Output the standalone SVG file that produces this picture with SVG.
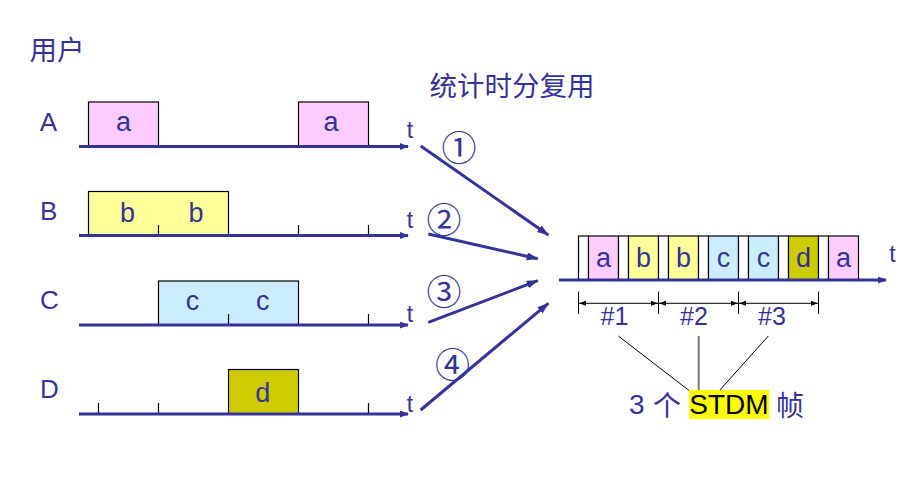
<svg xmlns="http://www.w3.org/2000/svg" width="924" height="483" viewBox="0 0 924 483">
<defs>
<style>
.lbl{font-family:"Liberation Sans",Arial,sans-serif;fill:#333399}
.cjk{font-family:"Noto Sans CJK SC",sans-serif;fill:#333399}
.box{stroke:#000;stroke-width:1.2}
.pink{fill:#FFCCFF}
.yel{fill:#FFFF99}
.blu{fill:#CCECFF}
.olv{fill:#CCCC00}
.wht{fill:#FFFFFF}
.axis{stroke:#333399;stroke-width:3;fill:none}
.tick{stroke:#000;stroke-width:1.2}
.mux{stroke:#333399;stroke-width:3;fill:none}
.thin{stroke:#000;stroke-width:1}
.num{font-family:"Noto Sans CJK SC",sans-serif;fill:#333399;font-size:35px}
</style>
<marker id="ax" markerUnits="userSpaceOnUse" markerWidth="10" markerHeight="8" refX="8" refY="3.5" orient="auto">
<path d="M0,0 L9,3.5 L0,7 z" fill="#333399"/>
</marker>
<marker id="mx" markerUnits="userSpaceOnUse" markerWidth="14" markerHeight="10" refX="11" refY="4" orient="auto">
<path d="M0,0 L12,4 L0,8 z" fill="#333399"/>
</marker>
<marker id="bk" markerUnits="userSpaceOnUse" markerWidth="8" markerHeight="6" refX="7" refY="2.5" orient="auto-start-reverse">
<path d="M0,0 L7,2.5 L0,5 z" fill="#000"/>
</marker>
</defs>
<rect width="924" height="483" fill="#fff"/>

<text class="cjk" x="29.5" y="59.5" font-size="27.5">用户</text>
<text class="cjk" x="429.5" y="96" font-size="27.5">统计时分复用</text>

<g id="userA">
<rect class="box pink" x="88.5" y="102" width="70" height="44.5"/>
<rect class="box pink" x="298.5" y="102" width="70" height="44.5"/>
<line class="axis" x1="79" y1="146.5" x2="408" y2="146.5" marker-end="url(#ax)"/>
<text class="lbl" x="48.5" y="131" font-size="26" text-anchor="middle">A</text>
<text class="lbl" x="123.5" y="130.5" font-size="27" text-anchor="middle">a</text>
<text class="lbl" x="331" y="130.5" font-size="27" text-anchor="middle">a</text>
<text class="lbl" x="410" y="138" font-size="23" text-anchor="middle">t</text>
</g>

<g id="userB">
<rect class="box yel" x="88.5" y="191.5" width="140" height="44"/>
<line class="tick" x1="158.5" y1="225" x2="158.5" y2="235.5"/>
<line class="tick" x1="298.5" y1="225" x2="298.5" y2="235.5"/>
<line class="tick" x1="368.5" y1="225" x2="368.5" y2="235.5"/>
<line class="axis" x1="79" y1="235.5" x2="408" y2="235.5" marker-end="url(#ax)"/>
<text class="lbl" x="48.7" y="219.5" font-size="26" text-anchor="middle">B</text>
<text class="lbl" x="127.5" y="222" font-size="27" text-anchor="middle">b</text>
<text class="lbl" x="196" y="222" font-size="27" text-anchor="middle">b</text>
<text class="lbl" x="410" y="228" font-size="23" text-anchor="middle">t</text>
</g>

<g id="userC">
<rect class="box blu" x="158.5" y="281" width="140" height="44"/>
<line class="tick" x1="228.5" y1="314" x2="228.5" y2="325"/>
<line class="tick" x1="368.5" y1="314" x2="368.5" y2="325"/>
<line class="axis" x1="79" y1="325" x2="408" y2="325" marker-end="url(#ax)"/>
<text class="lbl" x="49.5" y="309" font-size="26" text-anchor="middle">C</text>
<text class="lbl" x="192.5" y="310" font-size="27" text-anchor="middle">c</text>
<text class="lbl" x="262.7" y="310" font-size="27" text-anchor="middle">c</text>
<text class="lbl" x="410" y="321.5" font-size="23" text-anchor="middle">t</text>
</g>

<g id="userD">
<rect class="box olv" x="228.5" y="369.5" width="70" height="44.5"/>
<line class="tick" x1="98.5" y1="403" x2="98.5" y2="414"/>
<line class="tick" x1="158.5" y1="403" x2="158.5" y2="414"/>
<line class="tick" x1="368.5" y1="403" x2="368.5" y2="414"/>
<line class="axis" x1="79" y1="414" x2="408" y2="414" marker-end="url(#ax)"/>
<text class="lbl" x="49.5" y="397.5" font-size="26" text-anchor="middle">D</text>
<text class="lbl" x="262.7" y="401.5" font-size="27" text-anchor="middle">d</text>
<text class="lbl" x="410" y="411.5" font-size="23" text-anchor="middle">t</text>
</g>

<g id="connectors">
<line class="mux" x1="420.7" y1="146" x2="548.3" y2="235" marker-end="url(#mx)"/>
<line class="mux" x1="428.3" y1="234" x2="537.7" y2="258.7" marker-end="url(#mx)"/>
<line class="mux" x1="428.3" y1="322.3" x2="537.7" y2="280.7" marker-end="url(#mx)"/>
<line class="mux" x1="420.7" y1="410" x2="548.3" y2="303.3" marker-end="url(#mx)"/>
<text class="num" x="459" y="145" text-anchor="middle" dominant-baseline="central">①</text>
<text class="num" x="444" y="217.5" text-anchor="middle" dominant-baseline="central">②</text>
<text class="num" x="444" y="289" text-anchor="middle" dominant-baseline="central">③</text>
<text class="num" x="452.5" y="362.5" text-anchor="middle" dominant-baseline="central">④</text>
</g>

<g id="stdm">
<rect class="box wht" x="578.5" y="236" width="10" height="44"/>
<rect class="box pink" x="588.5" y="236" width="30" height="44"/>
<rect class="box wht" x="618.5" y="236" width="10" height="44"/>
<rect class="box yel" x="628.5" y="236" width="30" height="44"/>
<rect class="box wht" x="658.5" y="236" width="10" height="44"/>
<rect class="box yel" x="668.5" y="236" width="30" height="44"/>
<rect class="box wht" x="698.5" y="236" width="10" height="44"/>
<rect class="box blu" x="708.5" y="236" width="30" height="44"/>
<rect class="box wht" x="738.5" y="236" width="10" height="44"/>
<rect class="box blu" x="748.5" y="236" width="30" height="44"/>
<rect class="box wht" x="778.5" y="236" width="10" height="44"/>
<rect class="box olv" x="788.5" y="236" width="30" height="44"/>
<rect class="box wht" x="818.5" y="236" width="10" height="44"/>
<rect class="box pink" x="828.5" y="236" width="30" height="44"/>
<line class="axis" x1="559" y1="280" x2="886" y2="280" marker-end="url(#ax)"/>
<text class="lbl" x="603.5" y="266.5" font-size="27" text-anchor="middle">a</text>
<text class="lbl" x="643.5" y="266.5" font-size="27" text-anchor="middle">b</text>
<text class="lbl" x="683.5" y="266.5" font-size="27" text-anchor="middle">b</text>
<text class="lbl" x="723.5" y="266.5" font-size="27" text-anchor="middle">c</text>
<text class="lbl" x="763.5" y="266.5" font-size="27" text-anchor="middle">c</text>
<text class="lbl" x="803.5" y="266.5" font-size="27" text-anchor="middle">d</text>
<text class="lbl" x="843.5" y="266.5" font-size="27" text-anchor="middle">a</text>
<text class="lbl" x="892.5" y="261.5" font-size="23" text-anchor="middle">t</text>
</g>

<g id="frames">
<line class="thin" x1="578.5" y1="291.5" x2="578.5" y2="314"/>
<line class="thin" x1="658.5" y1="291.5" x2="658.5" y2="314"/>
<line class="thin" x1="738.5" y1="291.5" x2="738.5" y2="314"/>
<line class="thin" x1="818.5" y1="291.5" x2="818.5" y2="314"/>
<line class="thin" x1="579" y1="303.3" x2="658" y2="303.3" marker-start="url(#bk)" marker-end="url(#bk)"/>
<line class="thin" x1="659" y1="303.3" x2="738" y2="303.3" marker-start="url(#bk)" marker-end="url(#bk)"/>
<line class="thin" x1="739" y1="303.3" x2="818" y2="303.3" marker-start="url(#bk)" marker-end="url(#bk)"/>
<text class="lbl" x="614.5" y="324.5" font-size="25" text-anchor="middle">#1</text>
<text class="lbl" x="694" y="324.5" font-size="25" text-anchor="middle">#2</text>
<text class="lbl" x="772" y="324.5" font-size="25" text-anchor="middle">#3</text>
<line class="thin" x1="618.3" y1="336" x2="689.3" y2="390.7"/>
<line x1="698.7" y1="336" x2="698.7" y2="391" stroke="#777" stroke-width="2"/>
<line class="thin" x1="768.3" y1="336" x2="719" y2="391"/>
</g>

<g id="caption">
<rect x="689" y="390" width="80.3" height="29" fill="#FFFF00"/>
<text class="lbl" x="629" y="413.7" font-size="28">3</text>
<text class="cjk" x="667" y="415.5" font-size="28" text-anchor="middle">个</text>
<text x="729" y="413.7" font-size="28" text-anchor="middle" font-family="Liberation Sans,Arial,sans-serif" fill="#000">STDM</text>
<text class="cjk" x="790" y="415.5" font-size="28" text-anchor="middle">帧</text>
</g>
</svg>
